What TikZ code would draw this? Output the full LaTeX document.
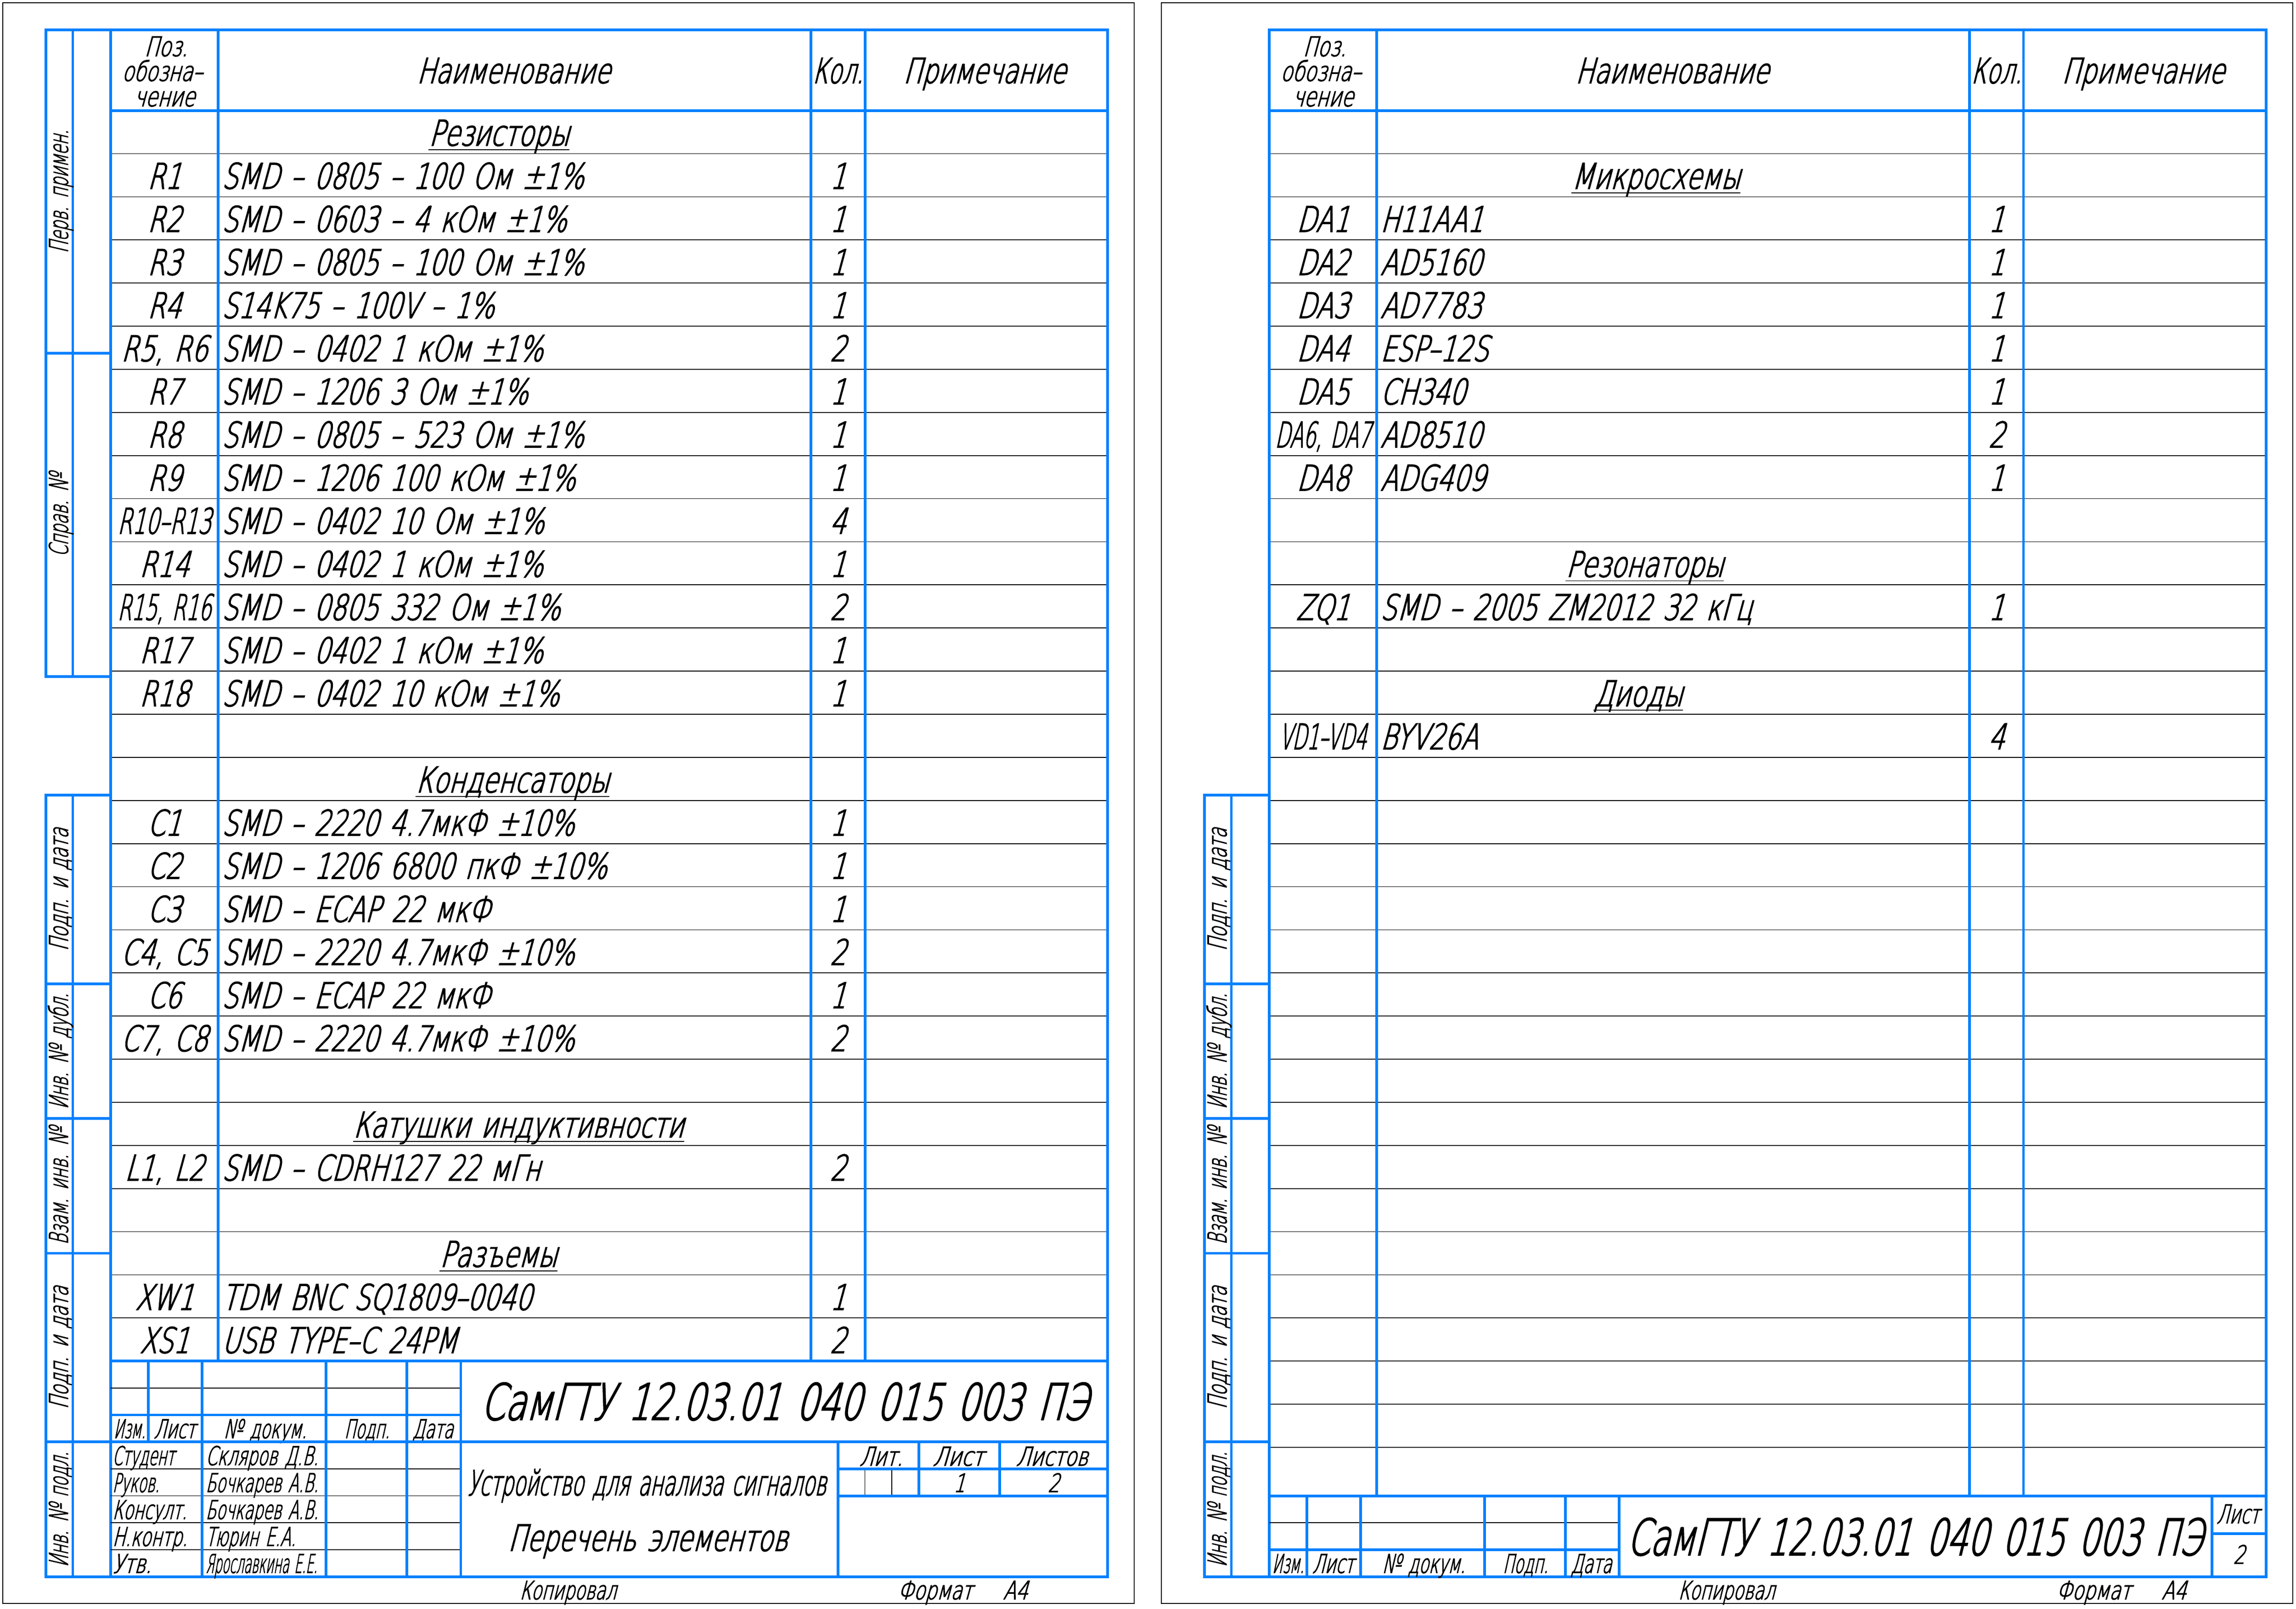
\documentclass[tikz,border=0pt]{standalone}
\usepackage{fontspec}
\usepackage{graphicx}
\IfFontExistsTF{DejaVu Sans ExtraLight}
  {\setmainfont{DejaVu Sans ExtraLight}[FakeStretch=0.72,FakeSlant=0.27,WordSpace=1.35,FakeBold=2.5]}
  {\setmainfont{DejaVu Sans}[FakeStretch=0.72,FakeSlant=0.27,WordSpace=1.35]}
\usetikzlibrary{positioning}
\definecolor{frameblue}{RGB}{0,128,255}
\newsavebox\fitbox
\newcommand\gost[1]{\fontsize{#1mm}{#1mm}\selectfont}
\newcommand\fitw[2]{\sbox\fitbox{#2}\pgfmathsetmacro\fitf{#1/\the\wd\fitbox}\scalebox{\fitf}[1]{\usebox\fitbox}}

\begin{document}
\begin{tikzpicture}[x=1mm, y=-1mm,
    bline/.style={draw=frameblue, line width=0.5mm, line cap=rect},
    tline/.style={draw=black, line width=0.15mm},
    txt/.style={inner sep=0pt, anchor=base, font=\gost{6.54}},
    ltxt/.style={txt, anchor=base west},
    stxt/.style={inner sep=0pt, anchor=base, font=\gost{4.8}},
    sltxt/.style={stxt, anchor=base west},
    vtxt/.style={stxt, rotate=90}]
    \useasboundingbox (0,0) rectangle (426.08,298.48);

    % Both sheets: frame, table, strip
    \foreach \sx/\sh/\tb/\nr/\ib in {0.51/l/252/28/266.3, 215.5/r/277/31/291.3}{
      \begin{scope}[shift={(\sx,0.51)}]
        % Sheet edge
        \draw[tline] (0,0) rectangle (210,297);
        % Rows
        \foreach \k in {1,...,\nr} \draw[tline] (20,20+8*\k) -- (205,20+8*\k);
        % Frame and columns
        \draw[bline] (20,292) -- (20,5) -- (205,5) -- (205,292) -- (8,292);
        \draw[bline] (20,20) -- (205,20);
        \foreach \x in {40,150,160} \draw[bline] (\x,5) -- (\x,\tb);
        % Left strip
        \draw[bline] (20,147) -- (8,147) -- (8,292) (13,147) -- (13,292);
        \foreach \y in {182,207,232,267} \draw[bline] (8,\y) -- (20,\y);
        \node[vtxt] (\sh s1) at (12.1,164.5) {\fitw{22.8mm}{Подп. и дата}};
        \node[vtxt] (\sh s2) at (12.1,194.5) {\fitw{21.5mm}{Инв. № дубл.}};
        \node[vtxt] (\sh s3) at (12.1,219.5) {\fitw{21.8mm}{Взам. инв. №}};
        \node[vtxt] (\sh s4) at (12.1,249.5) {\fitw{22.8mm}{Подп. и дата}};
        \node[vtxt] (\sh s5) at (12.1,279.5) {\fitw{21.4mm}{Инв. № подл.}};
        % Header
        \node[stxt, font=\gost{5}] (\sh poz1) at (30.3,9.9) {Поз.};
        \node[stxt, font=\gost{5}] (\sh poz2) at (29.6,14.5) {обозна–};
        \node[stxt, font=\gost{5}] (\sh poz3) at (30,19.2) {чение};
        \node[txt, font=\gost{6.4}] (\sh name) at (94.8,14.9) {Наименование};
        \node[txt, font=\gost{6.4}] (\sh qty) at (155,14.9) {\fitw{9.4mm}{Кол.}};
        \node[txt, font=\gost{6.4}] (\sh note) at (182.2,14.9) {Примечание};
        % Title block captions
        \foreach \cx/\w/\lb [count=\i] in {23.55/5.9/Изм., 31.9/7.7/Лист, 48.7/15.4/№ докум., 67.6/8.4/Подп., 79.8/7.6/Дата}
          \node[stxt] (\sh c\i) at (\cx,\ib) {\fitw{\w mm}{\lb}};
        % Below the frame
        \node[stxt, font=\gost{4.7}] (\sh copy) at (104.9,296.2) {\fitw{17.9mm}{Копировал}};
        \node[stxt, font=\gost{4.7}] (\sh fmt) at (173,296.2) {\fitw{13.8mm}{Формат}};
        \node[stxt, font=\gost{4.7}, right=5.6mm of \sh fmt.base east, anchor=base west] (\sh a4) {\fitw{4.6mm}{А4}};
      \end{scope}
    }

    % Sheet 1
    \begin{scope}[shift={(0.51,0.51)}]
      % Top strip
      \draw[bline] (20,5) -- (8,5) -- (8,125) -- (20,125) (13,5) -- (13,125) (8,65) -- (20,65);
      \node[vtxt] (ls6) at (12.1,35) {\fitw{22.9mm}{Перв. примен.}};
      \node[vtxt] (ls7) at (12.1,95) {\fitw{15.5mm}{Справ. №}};
      % Groups
      \foreach \k/\h/\cx in {1/Резисторы/92.1, 16/Конденсаторы/94.6, 24/Катушки индуктивности/95.7, 27/Разъемы/92}{
        \node[txt] (lh\k) at (\cx,18.5+8*\k) {\h};
        \draw[tline] ([yshift=-0.75mm]lh\k.base west) -- ([yshift=-0.75mm]lh\k.base east);
      }
      % Items
      \foreach \k/\pz/\nm/\qt in {2/R1/SMD – 0805 – 100 Ом ±1\%/1,
          3/R2/SMD – 0603 – 4 кОм ±1\%/1,
          4/R3/SMD – 0805 – 100 Ом ±1\%/1,
          5/R4/S14K75 – 100V – 1\%/1,
          6/{R5, R6}/SMD – 0402 1 кОм ±1\%/2,
          7/R7/SMD – 1206 3 Ом ±1\%/1,
          8/R8/SMD – 0805 – 523 Ом ±1\%/1,
          9/R9/SMD – 1206 100 кОм ±1\%/1,
          10/{\fitw{17.4mm}{R10–R13}}/SMD – 0402 10 Ом ±1\%/4,
          11/R14/SMD – 0402 1 кОм ±1\%/1,
          12/{\fitw{17.4mm}{R15, R16}}/SMD – 0805 332 Ом ±1\%/2,
          13/R17/SMD – 0402 1 кОм ±1\%/1,
          14/R18/SMD – 0402 10 кОм ±1\%/1,
          17/C1/SMD – 2220 4.7мкФ ±10\%/1,
          18/C2/SMD – 1206 6800 пкФ ±10\%/1,
          19/C3/SMD – ECAP 22 мкФ/1,
          20/{C4, C5}/SMD – 2220 4.7мкФ ±10\%/2,
          21/C6/SMD – ECAP 22 мкФ/1,
          22/{C7, C8}/SMD – 2220 4.7мкФ ±10\%/2,
          25/{L1, L2}/SMD – CDRH127 22 мГн/2,
          28/XW1/TDM BNC SQ1809–0040/1,
          29/XS1/USB TYPE–C 24PM/2}{
        \node[txt] (lp\k) at (30,18.5+8*\k) {\pz};
        \node[ltxt] (ln\k) at (40.6,18.5+8*\k) {\nm};
        \node[txt] (lq\k) at (155,18.5+8*\k) {\qt};
      }
      % Title block
      \draw[tline] (20,257) -- (85,257) (160,272) -- (160,277) (165,272) -- (165,277);
      \foreach \y in {272,277,282,287} \draw[tline] (20,\y) -- (85,\y);
      \draw[bline] (20,252) -- (205,252) (20,267) -- (205,267) (20,262) -- (85,262) (27,252) -- (27,267);
      \foreach \x in {37,60,75,85} \draw[bline] (\x,252) -- (\x,292);
      \draw[bline] (155,267) -- (155,292) (155,272) -- (205,272) (155,277) -- (205,277)
        (170,267) -- (170,277) (185,267) -- (185,277);
      \foreach \rl/\w/\pn/\pw [count=\i] in {Студент/11.5/Скляров Д.В./20.9,
          Руков./8.7/Бочкарев А.В./20.9,
          Консулт./13.8/Бочкарев А.В./20.9,
          Н.контр./13.9/Тюрин Е.А./16.7,
          Утв./7.2/Ярославкина Е.Е./20.7}{
        \node[sltxt] (lr\i) at (20.3,266.3+5*\i) {\fitw{\w mm}{\rl}};
        \node[sltxt] (lm\i) at (37.6,266.3+5*\i) {\fitw{\pw mm}{\pn}};
      }
      \node[stxt, font=\gost{9.3}] (ldoc) at (145,262.9) {\fitw{112.6mm}{СамГТУ 12.03.01 040 015 003 ПЭ}};
      \node[stxt, font=\gost{6.4}] (ltitle1) at (119.5,276.9) {\fitw{66.6mm}{Устройство для анализа сигналов}};
      \node[stxt, font=\gost{6.7}] (ltitle2) at (119.7,287.2) {\fitw{51.9mm}{Перечень элементов}};
      \node[stxt] (llit) at (163,271.4) {\fitw{8mm}{Лит.}};
      \node[stxt] (llist) at (177.3,271.4) {\fitw{9.4mm}{Лист}};
      \node[stxt] (llists) at (194.7,271.4) {\fitw{13.3mm}{Листов}};
      \node[stxt, font=\gost{4.7}] (lno) at (177.5,276.3) {1};
      \node[stxt, font=\gost{4.7}] (lnos) at (195,276.3) {2};
    \end{scope}

    % Sheet 2
    \begin{scope}[shift={(215.5,0.51)}]
      % Groups
      \foreach \k/\h/\cx in {2/Микросхемы/91.8, 11/Резонаторы/89.7, 14/Диоды/88.5}{
        \node[txt] (rh\k) at (\cx,18.5+8*\k) {\h};
        \draw[tline] ([yshift=-0.75mm]rh\k.base west) -- ([yshift=-0.75mm]rh\k.base east);
      }
      % Items
      \foreach \k/\pz/\nm/\qt in {3/DA1/H11AA1/1,
          4/DA2/AD5160/1,
          5/DA3/AD7783/1,
          6/DA4/ESP–12S/1,
          7/DA5/CH340/1,
          8/{\fitw{17.8mm}{DA6, DA7}}/AD8510/2,
          9/DA8/ADG409/1,
          12/ZQ1/SMD – 2005 ZM2012 32 кГц/1,
          15/{\fitw{16.2mm}{VD1–VD4}}/BYV26A/4}{
        \node[txt] (rp\k) at (30,18.5+8*\k) {\pz};
        \node[ltxt] (rn\k) at (40.6,18.5+8*\k) {\nm};
        \node[txt] (rq\k) at (155,18.5+8*\k) {\qt};
      }
      % Title block
      \draw[tline] (20,282) -- (85,282);
      \draw[bline] (20,277) -- (205,277) (20,287) -- (85,287) (195,284) -- (205,284);
      \foreach \x in {27,37,60,75,85,195} \draw[bline] (\x,277) -- (\x,292);
      \node[stxt, font=\gost{9.3}] (rdoc) at (139.8,288) {\fitw{106.7mm}{СамГТУ 12.03.01 040 015 003 ПЭ}};
      \node[stxt] (rlist) at (199.8,282.1) {\fitw{7.9mm}{Лист}};
      \node[stxt, font=\gost{4.7}] (rno) at (200,289.6) {2};
    \end{scope}
\end{tikzpicture}
\end{document}
